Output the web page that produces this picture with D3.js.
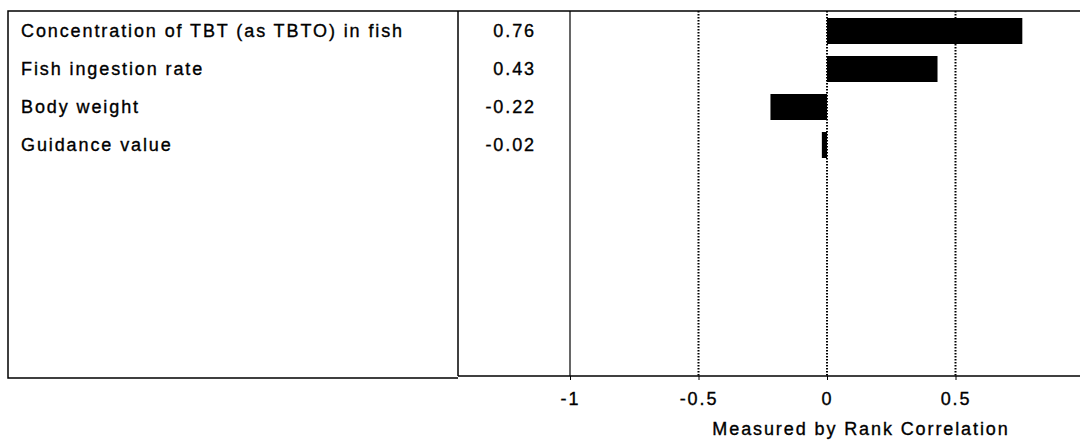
<!DOCTYPE html>
<html>
<head>
<meta charset="utf-8">
<script src="https://cdn.jsdelivr.net/npm/d3@7"></script>
<style>
  body { margin: 0; background: #fff; }
  svg { display: block; }
  text { font-family: "Liberation Sans", Arial, sans-serif; fill: #000; }
</style>
</head>
<body>
<svg width="1080" height="440"></svg>
<script>
// input variables, top to bottom
const variables = [
  "Concentration of TBT (as TBTO) in fish",
  "Fish ingestion rate",
  "Body weight",
  "Guidance value"
];
// rank correlation with the output
const correlations = [0.76, 0.43, -0.22, -0.02];
// axis ticks
const tickValues = [-1, -0.5, 0, 0.5];
const tickLabels = ["-1", "-0.5", "0", "0.5"];
const axisTitle = "Measured by Rank Correlation";

const svg = d3.select("svg");

// box geometry
const plotTop = 11, plotBottom = 376;
const boxLeft = 8, divider = 458;
const nRows = 9;
const fontSize = 18, spacing = "1.9px";

const x = d3.scaleLinear().domain([-1, 1]).range([570, 1084]);

const y = d3.scaleBand()
  .domain(d3.range(nRows))
  .range([plotTop + 1, plotTop + 1 + 38 * nRows])
  .paddingInner(12 / 38)
  .paddingOuter(6 / 38);

// text helper: thin outline makes the glyphs look like the scanned print
function styleText(sel) {
  sel.attr("font-size", fontSize)
    .attr("letter-spacing", spacing)
    .attr("font-family", "Liberation Sans, Arial, sans-serif")
    .attr("fill", "#000")
    .attr("stroke", "#000")
    .attr("stroke-width", 0.35);
}

// outer lines of the left table
svg.append("path")
  .attr("d", `M1080,${plotTop}H${boxLeft}V${plotBottom + 2}H${divider}`)
  .attr("fill", "none")
  .attr("stroke", "#000")
  .attr("stroke-width", 1.5);

svg.append("line")
  .attr("x1", divider).attr("x2", divider)
  .attr("y1", plotTop).attr("y2", plotBottom)
  .attr("stroke", "#000")
  .attr("stroke-width", 1.5);

// vertical grid lines: solid at -1, dotted elsewhere
svg.selectAll(".grid")
  .data(tickValues)
  .enter()
  .append("line")
  .attr("class", "grid")
  .attr("x1", (d) => x(d)).attr("x2", (d) => x(d))
  .attr("y1", plotTop).attr("y2", plotBottom)
  .attr("stroke", "#000")
  .attr("stroke-width", (d) => (d === -1 ? 1.2 : 2))
  .attr("stroke-dasharray", (d) => (d === -1 ? null : "1.5,1.5"));

// bottom axis
const axis = svg.append("g")
  .attr("transform", `translate(0,${plotBottom})`)
  .call(d3.axisBottom(x)
    .tickValues(tickValues)
    .tickFormat((d, i) => tickLabels[i])
    .tickSize(4)
    .tickPadding(12));
axis.select(".domain").remove();
axis.selectAll(".tick line").attr("stroke", "#000");
axis.selectAll(".tick text").call(styleText);

svg.append("line")
  .attr("x1", divider).attr("x2", 1080)
  .attr("y1", plotBottom).attr("y2", plotBottom)
  .attr("stroke", "#000")
  .attr("stroke-width", 1.5);

// bars
svg.selectAll(".bar")
  .data(correlations)
  .enter()
  .append("rect")
  .attr("class", "bar")
  .attr("x", (d) => x(Math.min(0, d)))
  .attr("y", (d, i) => y(i))
  .attr("width", (d) => Math.abs(x(d) - x(0)))
  .attr("height", y.bandwidth())
  .attr("fill", "#000");

// variable names
svg.selectAll(".name")
  .data(variables)
  .enter()
  .append("text")
  .attr("class", "name")
  .attr("x", 21)
  .attr("y", (d, i) => y(i) + y.bandwidth() / 2)
  .attr("dy", "0.35em")
  .call(styleText)
  .text((d) => d);

// correlation values
svg.selectAll(".value")
  .data(correlations)
  .enter()
  .append("text")
  .attr("class", "value")
  .attr("x", 536)
  .attr("y", (d, i) => y(i) + y.bandwidth() / 2)
  .attr("dy", "0.35em")
  .attr("text-anchor", "end")
  .call(styleText)
  .text((d) => d.toFixed(2));

// axis title
svg.append("text")
  .attr("x", 861)
  .attr("y", 429)
  .attr("dy", "0.35em")
  .attr("text-anchor", "middle")
  .call(styleText)
  .text(axisTitle);
</script>
</body>
</html>
